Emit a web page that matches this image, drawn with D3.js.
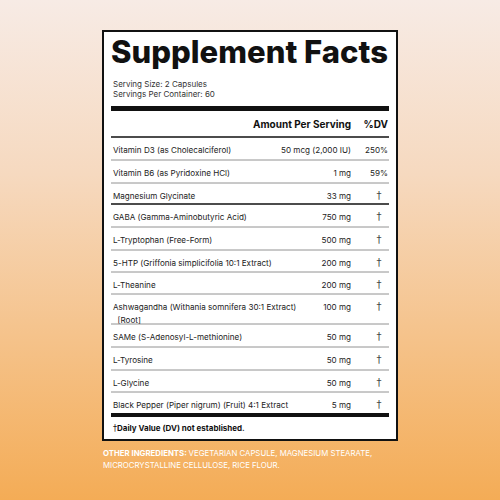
<!DOCTYPE html><html><head><meta charset="utf-8"><script src="https://cdn.jsdelivr.net/npm/d3@7"></script>
<style>body{margin:0}svg{display:block}</style></head><body><script>
const names=["Vitamin D3 (as Cholecalciferol)","Vitamin B6 (as Pyridoxine HCl)","Magnesium Glycinate","GABA (Gamma-Aminobutyric Acid)","L-Tryptophan (Free-Form)","5-HTP (Griffonia simplicifolia 10:1 Extract)","L-Theanine","Ashwagandha (Withania somnifera 30:1 Extract)|  [Root]","SAMe (S-Adenosyl-L-methionine)","L-Tyrosine","L-Glycine","Black Pepper (Piper nigrum) (Fruit) 4:1 Extract"];
const amounts=["50 mcg (2,000 IU)","1 mg","33 mg","750 mg","500 mg","200 mg","200 mg","100 mg","50 mg","50 mg","50 mg","5 mg"];
const dv=["250%","59%","†","†","†","†","†","†","†","†","†","†"];
const rowTops=[137,160,183,204,227,250,272,294,324,347,370,392,414];
const W=500,H=500,F="Inter, 'Open Sans', sans-serif";
const svg=d3.select("body").append("svg").attr("width",W).attr("height",H);
const g=svg.append("defs").append("linearGradient").attr("id","bg").attr("x1",0).attr("x2",0).attr("y1",0).attr("y2",1);
g.append("stop").attr("offset","0").attr("stop-color","#f7ebe5");
g.append("stop").attr("offset","0.35").attr("stop-color","#f6d9bf");
g.append("stop").attr("offset","1").attr("stop-color","#f4ac56");
svg.append("rect").attr("width",W).attr("height",H).attr("fill","url(#bg)");
svg.append("rect").attr("x",103).attr("y",31).attr("width",294).attr("height",409).attr("fill","#fff").attr("stroke","#111").attr("stroke-width",2);
const t=(x,y,s,opt={})=>svg.append("text").attr("x",x).attr("y",y).attr("font-family",opt.ff||F).attr("font-size",opt.fs||9).attr("font-weight",opt.fw||400).attr("fill",opt.fill||"#222").attr("text-anchor",opt.a||"start").text(s);
t(111,63,"Supplement Facts",{fs:31,fw:800,fill:"#111"}).attr("textLength",277).attr("lengthAdjust","spacingAndGlyphs");
t(113,87,"Serving Size: 2 Capsules",{fs:8,fill:"#333"});
t(113,97,"Servings Per Container: 60",{fs:8,fill:"#333"});
svg.append("rect").attr("x",111).attr("y",106).attr("width",278).attr("height",5).attr("fill","#111");
t(351,128,"Amount Per Serving",{fs:10,fw:700,a:"end",fill:"#111"});
t(388,128,"%DV",{fs:10,fw:700,a:"end",fill:"#111"});
rowTops.slice(0,-1).forEach((top,i)=>{
  const sw=(i===0||i===3)?1.6:0.8;
  svg.append("line").attr("x1",111).attr("x2",389).attr("y1",top).attr("y2",top).attr("stroke",i===0||i===3?"#111":"#777").attr("stroke-width",sw);
  names[i].split("|").forEach((p,k)=>t(113,top+16+k*12.5,p,{fs:8.1}).attr("xml:space","preserve"));
  t(351,top+16,amounts[i],{fs:8.1,a:"end"});
  if(dv[i]==="†") t(379,top+16,"†",{fs:10,a:"middle",ff:"'DejaVu Sans', sans-serif",fill:"#444"}); else t(388,top+16,dv[i],{fs:8.1,a:"end"});
});
svg.append("rect").attr("x",111).attr("y",413).attr("width",278).attr("height",4).attr("fill","#111");
const ft=t(113,431,"",{fs:8,fw:700,fill:"#111"});
ft.append("tspan").attr("font-weight",400).attr("font-family","'DejaVu Sans', sans-serif").text("†");ft.append("tspan").text("Daily Value (DV) not established.");
const o=t(103,456,"",{fs:7.8,fill:"#fff"});
o.append("tspan").attr("font-weight",700).text("OTHER INGREDIENTS: ");o.append("tspan").text("VEGETARIAN CAPSULE, MAGNESIUM STEARATE,");
t(103,468,"MICROCRYSTALLINE CELLULOSE, RICE FLOUR.",{fs:7.8,fill:"#fff"});
</script></body></html>
